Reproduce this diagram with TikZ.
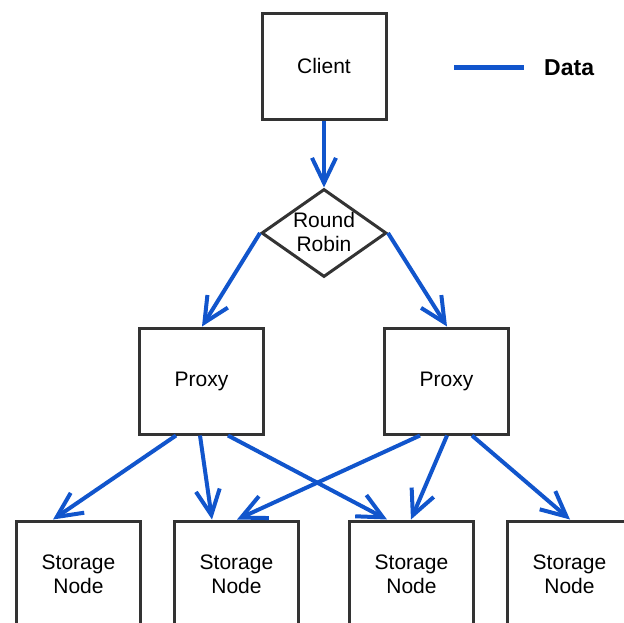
\documentclass[tikz,border=0pt]{standalone}
\usepackage{fontspec}
\setmainfont{Liberation Sans}
\usetikzlibrary{arrows.meta,shapes.geometric}
\definecolor{flowblue}{HTML}{1155CC}
\definecolor{boxgray}{HTML}{333333}
\begin{document}
\begin{tikzpicture}[x=1pt,y=-1pt,
  box/.style={draw=boxgray,line width=3pt,fill=white,minimum width=124pt,minimum height=106pt,inner sep=0pt,align=center,font=\fontsize{21}{24}\selectfont},
  decide/.style={draw=boxgray,line width=3pt,fill=white,diamond,minimum width=125pt,minimum height=88pt,aspect=1.42,inner sep=0pt,align=center,font=\fontsize{21}{24}\selectfont},
  flow/.style={draw=flowblue,line width=4pt,-{Straight Barb[length=25pt,width=24pt,line width=4pt]}}
]
\useasboundingbox (0,0) rectangle (624,622);
\clip (0,0) rectangle (624,622);

\node[box] (client) at (324,66) {Client};
\node[decide] (rr) at (324,233) {};
\node[font=\fontsize{21}{24}\selectfont,align=center] (rrtext) at (324,232) {Round\\Robin};
\node[box] (p1) at (201.5,381) {Proxy};
\node[box] (p2) at (446.5,381) {Proxy};
\node[box] (s1) at (78.5,574) {Storage\\Node};
\node[box] (s2) at (236.5,574) {Storage\\Node};
\node[box] (s3) at (411.5,574) {Storage\\Node};
\node[box] (s4) at (569.5,574) {Storage\\Node};

\draw[flow] (client.south) -- (rr.north);
\draw[flow] (rr.west) -- ([xshift=0.5pt]p1.north);
\draw[flow] (rr.east) -- ([xshift=0.5pt]p2.north);

\draw[flow] ([xshift=-25.5pt]p1.south) -- ([xshift=-25.5pt]s1.north);
\draw[flow] ([xshift=-1.5pt]p1.south) -- ([xshift=-24.5pt]s2.north);
\draw[flow] ([xshift=26.5pt]p1.south) -- ([xshift=-24.5pt]s3.north);
\draw[flow] ([xshift=-26.5pt]p2.south) -- ([xshift=0.5pt]s2.north);
\draw[flow] ([xshift=0.5pt]p2.south) -- ([xshift=-0.5pt]s3.north);
\draw[flow] ([xshift=25.5pt]p2.south) -- ([xshift=0.5pt]s4.north);

\coordinate (lgA) at (454,67);
\coordinate (lgB) at (524,67);
\draw[draw=flowblue,line width=5pt] (lgA) -- (lgB);
\node[anchor=west,inner sep=0pt,font=\fontsize{23}{26}\selectfont\bfseries] (lgtext) at (544,68) {Data};
\end{tikzpicture}
\end{document}
